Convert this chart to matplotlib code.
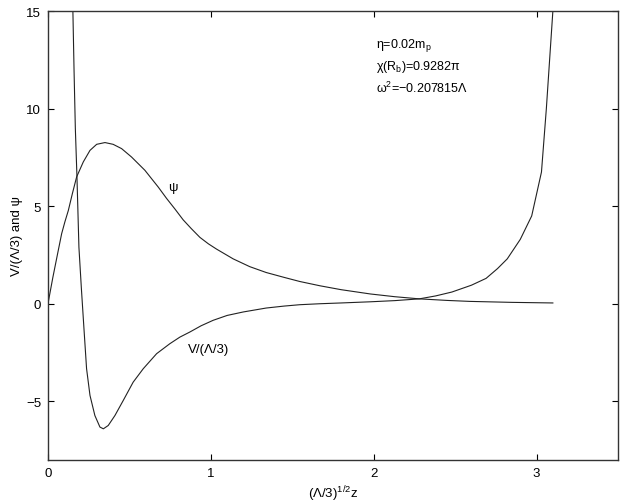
import matplotlib
matplotlib.use("Agg")
import matplotlib.pyplot as plt

plt.rcParams['font.family'] = ['Liberation Sans', 'DejaVu Sans']
plt.rcParams['mathtext.fontset'] = 'custom'
plt.rcParams['mathtext.rm'] = 'Liberation Sans'
plt.rcParams['mathtext.it'] = 'Liberation Sans'
plt.rcParams['mathtext.default'] = 'regular'

psi_x = [0, 0.03, 0.06, 0.084, 0.104, 0.125, 0.15, 0.176, 0.217, 0.258, 0.299, 0.35,
         0.40, 0.452, 0.513, 0.595, 0.677, 0.728, 0.78, 0.83, 0.88, 0.933, 0.985,
         1.035, 1.137, 1.239, 1.34, 1.45, 1.546, 1.67, 1.8, 1.98, 2.13, 2.28, 2.45,
         2.59, 2.85, 3.1]
psi_y = [0, 1.35, 2.6, 3.59, 4.2, 4.78, 5.65, 6.5, 7.27, 7.86, 8.17, 8.26,
         8.17, 7.95, 7.52, 6.84, 5.98, 5.4, 4.85, 4.3, 3.85, 3.4, 3.07,
         2.8, 2.3, 1.9, 1.6, 1.35, 1.14, 0.92, 0.72, 0.5, 0.36, 0.25, 0.17,
         0.12, 0.07, 0.04]

v_x = [0.153, 0.16, 0.168, 0.178, 0.19, 0.205, 0.221, 0.237, 0.258, 0.288, 0.319, 0.34,
       0.37, 0.411, 0.462, 0.523, 0.585, 0.667, 0.748, 0.81, 0.871, 0.94, 1.014, 1.1,
       1.2, 1.34, 1.45, 1.546, 1.67, 1.8, 1.98, 2.13, 2.28, 2.38, 2.48, 2.6, 2.69,
       2.76, 2.82, 2.9, 2.97, 3.03, 3.06, 3.1]
v_y = [15, 12, 9, 6.5, 2.9, 0.8, -1.28, -3.33, -4.7, -5.73, -6.32, -6.41,
       -6.24, -5.73, -4.96, -4.02, -3.33, -2.56, -2.05, -1.71, -1.45, -1.13, -0.85, -0.6,
       -0.42, -0.22, -0.12, -0.05, 0.0, 0.04, 0.1, 0.16, 0.25, 0.4, 0.6, 0.95, 1.3,
       1.8, 2.3, 3.3, 4.5, 6.75, 10, 15]

x_ticks = [0, 1, 2, 3]
y_ticks = [-5, 0, 5, 10, 15]

fig = plt.figure(figsize=(6.23, 5.02), dpi=100)
ax = fig.add_axes([0.077, 0.082, 0.915, 0.894])

ax.plot(psi_x, psi_y, color='#222222', lw=0.8)
ax.plot(v_x, v_y, color='#222222', lw=0.8)

ax.set_xlim(0, 3.5)
ax.set_ylim(-8, 15)
ax.set_xticks(x_ticks)
ax.set_yticks(y_ticks)
ax.set_xticklabels([str(t) for t in x_ticks])
ax.set_yticklabels(['\u22125' if t < 0 else str(t) for t in y_ticks])
ax.tick_params(direction='in', top=True, right=True, length=4, width=0.8,
               labelsize=9.5, pad=5)
for s in ax.spines.values():
    s.set_linewidth(1.0)
    s.set_color('#333333')

ax.set_xlabel('(\u039b/3)$^{1/2}$z', fontsize=9.5, labelpad=3)
ax.set_ylabel('V/(\u039b/3) and \u03c8', fontsize=9.5, labelpad=2)

ax.text(0.765, 6.0, '\u03c8', fontsize=9.5, ha='center', va='center')
ax.text(0.983, -2.3, 'V/(\u039b/3)', fontsize=9.5, ha='center', va='center')

ax.text(2.017, 13.3, '\u03b7=0.02m$_{p}$', fontsize=9, ha='left', va='center')
ax.text(2.017, 12.2, '\u03c7(R$_{b}$)=0.9282\u03c0', fontsize=9, ha='left', va='center')
ax.text(2.017, 11.1, '\u03c9$^{2}$=\u22120.207815\u039b', fontsize=9, ha='left', va='center')

fig.savefig('out.png', dpi=100)
